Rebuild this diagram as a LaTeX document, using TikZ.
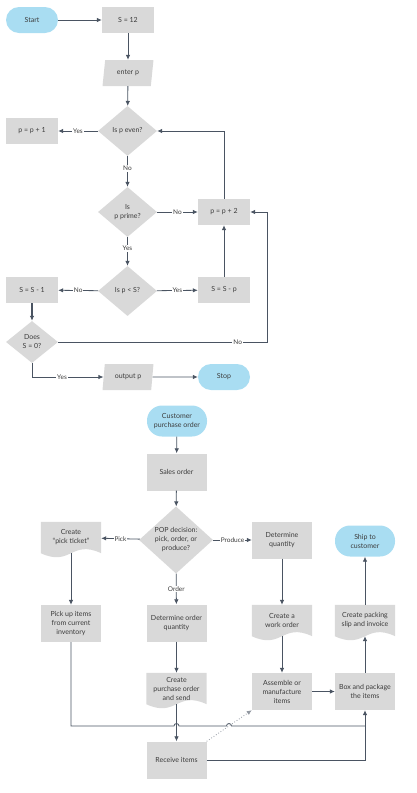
\documentclass[tikz,border=0pt]{standalone}
\usepackage{fontspec}
\setmainfont{Lato}
\usepackage{tikz}
\usetikzlibrary{positioning,arrows.meta,shapes.geometric,backgrounds,calc}

\definecolor{boxgray}{RGB}{217,217,217}
\definecolor{termblue}{RGB}{169,221,242}
\definecolor{linegray}{RGB}{74,84,98}
\definecolor{txtgray}{RGB}{60,60,60}

\tikzset{
  proc/.style={rectangle, fill=boxgray, minimum width=52pt, minimum height=26pt, inner sep=1pt, align=center, text=txtgray, font=\fontsize{7}{9}\selectfont},
  bigproc/.style={proc, minimum width=60pt, minimum height=37pt},
  term/.style={proc, fill=termblue, rounded corners=13pt},
  bigterm/.style={term, minimum width=60pt, minimum height=31pt, rounded corners=15pt},
  io/.style={trapezium, trapezium left angle=80, trapezium right angle=100, trapezium stretches=true, fill=boxgray, minimum width=51pt, minimum height=26pt, inner sep=1pt, text=txtgray, font=\fontsize{7}{9}\selectfont},
  decision/.style={diamond, fill=boxgray, minimum width=59pt, minimum height=50pt, inner sep=0pt, align=center, text=txtgray, font=\fontsize{7}{9}\selectfont},
  doc/.style={rectangle, minimum width=60pt, minimum height=31pt, inner sep=1pt, align=center, text=txtgray, font=\fontsize{7}{9}\selectfont},
  flow/.style={draw=linegray, line width=0.8pt, -{Latex[length=5pt,width=4.5pt]}},
  lbl/.style={fill=white, inner sep=1pt, text=txtgray, font=\fontsize{6.5}{7}\selectfont},
}

\begin{document}
\begin{tikzpicture}[x=1pt, y=-1pt]
\useasboundingbox (0,0) rectangle (416,793);

% number loop
\node[term] (start) at (32, 20) {Start};
\node[proc] (s12) at (128, 20) {S = 12};
\node[io] (enter) at (128, 73) {enter p};
\node[decision] (even) at (127.5, 131) {Is p even?};
\node[proc] (pp1) at (32, 131) {p = p + 1};
\node[decision] (prime) at (127.5, 212) {Is\\p prime?};
\node[proc] (pp2) at (224, 212) {p = p + 2};
\node[decision] (less) at (127.5, 291) {Is p < S?};
\node[proc] (ssp) at (224, 290) {S = S - p};
\node[proc] (ss1) at (32, 290) {S = S - 1};
\node[decision, minimum width=52pt, minimum height=42pt] (does) at (32, 342) {Does\\S = 0?};
\node[io] (out) at (128, 377) {output p};
\node[term] (stop) at (224, 377) {Stop};
\coordinate (noR) at (267, 342);

\draw[flow] (start) -- (s12);
\draw[flow] (s12) -- (enter);
\draw[flow] (enter) -- (even);
\draw[flow] (even) -- node[lbl] {Yes} (pp1);
\draw[flow] (even) -- node[lbl, pos=0.4] {No} (prime);
\draw[flow] (prime) -- node[lbl] {No} (pp2);
\draw[flow] (prime) -- node[lbl, pos=0.4] {Yes} (less);
\draw[flow] (less) -- node[lbl] {Yes} (ssp);
\draw[flow] (less) -- node[lbl] {No} (ss1);
\draw[flow, line width=1.3pt] (ss1) -- (does);
\draw[flow] (ssp) -- (pp2);
\draw[flow] (pp2.north) |- (even.east);
\draw[flow] (does.east) -- node[lbl, pos=0.86] {No} (noR) |- (pp2.east);
\draw[flow] (does.south) |- node[lbl, pos=0.71] {Yes} (out.west);
\draw[flow] (out) -- (stop);

% order process
\node[bigterm] (cpo) at (177, 421) {Customer\\purchase order};
\node[bigproc] (sales) at (176.5, 472) {Sales order};
\node[decision, minimum width=74pt, minimum height=62pt] (pop) at (176, 540) {POP decision:\\pick, order, or\\produce?};
\node[doc] (tick) at (71, 537.5) {Create\\``pick ticket''};
\node[bigproc] (detq) at (282, 540) {Determine\\quantity};
\node[bigterm] (ship) at (365, 541) {Ship to\\customer};
\node[bigproc] (pick) at (71, 623.5) {Pick up items\\from current\\inventory};
\node[bigproc] (detoq) at (176.5, 623) {Determine order\\quantity};
\node[doc] (work) at (282, 620.5) {Create a\\work order};
\node[doc] (slip) at (365, 620.5) {Create packing\\slip and invoice};
\node[doc] (cpos) at (176.5, 688.5) {Create\\purchase order\\and send};
\node[bigproc] (asm) at (282, 691.5) {Assemble or\\manufacture\\items};
\node[bigproc] (box) at (365, 691.5) {Box and package\\the items};
\node[bigproc] (recv) at (176.5, 760) {Receive items};
\coordinate (jn) at (365, 726);
\coordinate (jmp1) at (176.5, 726);
\coordinate (jmp2) at (229, 726);

% wavy document shapes
\begin{scope}[on background layer]
\foreach \d in {tick, work, slip, cpos}
  \fill[boxgray] (\d.south west) -- (\d.north west) -- (\d.north east) -- (\d.south east)
    .. controls ($(\d.south)+(0,-14)$) and ($(\d.south)+(0,14)$) .. (\d.south west);
\end{scope}

\draw[flow] (cpo) -- (sales);
\draw[flow] (sales) -- (pop);
\draw[flow] (pop) -- node[lbl] {Pick} (tick);
\draw[flow] (pop) -- node[lbl] {Produce} (detq);
\draw[flow] (pop) -- node[lbl] {Order} (detoq);
\draw[flow] (tick) -- (pick);
\draw[flow] (detoq) -- (cpos);
\draw[flow] (cpos) -- (recv);
\draw[flow] (detq) -- (work);
\draw[flow] (work) -- (asm);
\draw[flow] (asm) -- (box);
\draw[flow] (box) -- (slip);
\draw[flow] (slip) -- (ship);
\draw[flow] (recv.east) -| (box.south);
\draw[draw=linegray, line width=0.8pt] (pick.south) |- ($(jmp1)+(-2.5,0)$) arc (180:360:2.5)
  -- ($(jmp2)+(-2.5,0)$) arc (180:360:2.5) -- (jn);
\draw[flow, draw=linegray!60, dotted] (recv.north east) -- (asm.south west);

\end{tikzpicture}
\end{document}
